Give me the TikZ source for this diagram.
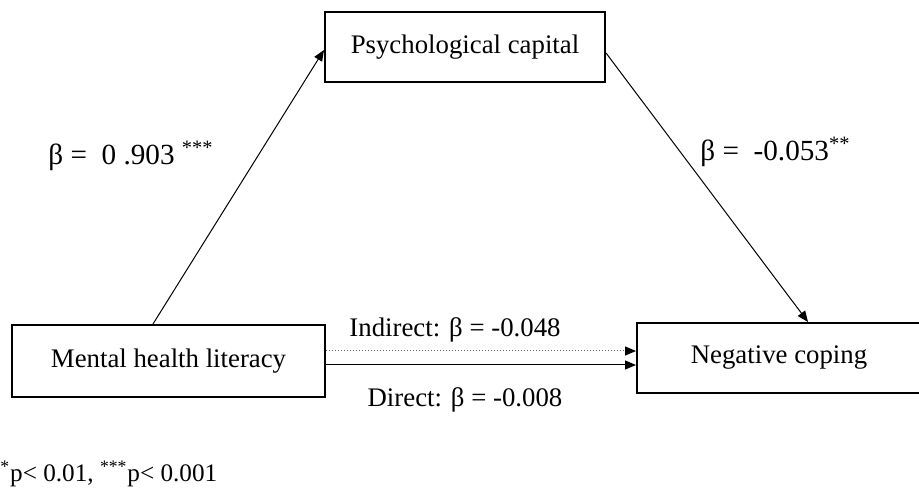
\documentclass[tikz,border=0pt]{standalone}
\usepackage{fontspec}
\setmainfont{Liberation Serif}
\usepackage{tikz}
\usetikzlibrary{calc,arrows.meta,positioning}
\tikzset{
  ar/.style={-{Triangle[length=5.5pt,width=4.5pt,color=black]},line width=0.5pt,black},
  bx/.style={rectangle,draw=black,line width=1pt,fill=white,inner sep=0pt,font=\fontsize{13.4}{16}\selectfont},
  lb/.style={inner sep=0pt,font=\fontsize{13.4}{16}\selectfont}
}

\begin{document}
\begin{tikzpicture}[x=0.5pt,y=-0.5pt]
\useasboundingbox (0,0) rectangle (919,490);
\node[bx,minimum width=140pt,minimum height=35pt] (psy) at (465,47) {Psychological capital};
\node[bx,minimum width=156.5pt,minimum height=36pt] (mhl) at (168.5,361) {Mental health literacy};
\node[bx,minimum width=142pt,minimum height=35pt] (neg) at (779,358) {Negative coping};
\draw[ar] ([xshift=-7.75pt]mhl.north) -- ([yshift=-1.5pt]psy.west);
\draw[ar] ([yshift=-3pt]psy.east) -- ([xshift=14.5pt]neg.north);
\draw[ar,densely dotted,gray!80!black] ([yshift=5pt]mhl.east) -- ([yshift=5pt]mhl.east -| neg.west);
\draw[ar] ([yshift=-2pt]mhl.east) -- ([yshift=-2pt]mhl.east -| neg.west);
\node[lb,anchor=west,font=\fontsize{14.6}{17}\selectfont] (ba) at (48,156) {β =\ \ 0 .903 \textsuperscript{***}};
\node[lb,anchor=west,font=\fontsize{14.6}{17}\selectfont] (bb) at (700,152) {β =\ \ -0.053\textsuperscript{**}};
\node[lb] (bi) at (455,330) {Indirect: β = -0.048};
\node[lb] (bd) at (465,400) {Direct: β = -0.008};
\node[lb,anchor=west,font=\fontsize{12.6}{15}\selectfont] (note) at (0,474) {\textsuperscript{*}p< 0.01, \textsuperscript{***}p< 0.001};
\end{tikzpicture}
\end{document}
